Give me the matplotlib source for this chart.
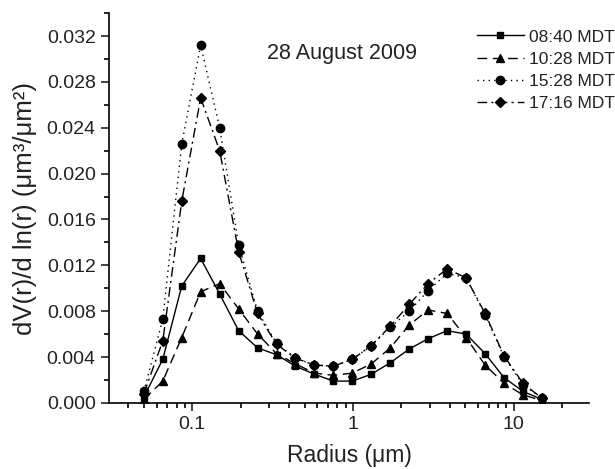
import matplotlib
matplotlib.use("Agg")
import matplotlib.pyplot as plt
from matplotlib.ticker import LogLocator, NullFormatter, MultipleLocator, FixedLocator

plt.rcParams['font.family'] = ['Liberation Sans', 'DejaVu Sans']

# AERONET size bins (um)
radius = [0.050, 0.0656, 0.0861, 0.1129, 0.1482, 0.1944, 0.2551, 0.3347, 0.4392,
          0.5762, 0.7561, 0.9920, 1.3016, 1.7078, 2.2407, 2.9400, 3.8575, 5.0613,
          6.6407, 8.7131, 11.4323, 15.0]

# dV(r)/d ln(r) for each retrieval time
s0840 = [0.0005, 0.0038, 0.0102, 0.0126, 0.0095, 0.0063, 0.0048, 0.0042, 0.0032,
         0.0025, 0.0019, 0.0019, 0.0025, 0.0035, 0.0047, 0.0056, 0.0063, 0.0060,
         0.0043, 0.0022, 0.0010, 0.0003]
s1028 = [0.0003, 0.0019, 0.0057, 0.0097, 0.0104, 0.0082, 0.0060, 0.0043, 0.0034,
         0.0026, 0.0024, 0.0026, 0.0034, 0.0048, 0.0068, 0.0081, 0.0078, 0.0057,
         0.0033, 0.0017, 0.0007, 0.0002]
s1528 = [0.0010, 0.0073, 0.0226, 0.0312, 0.0240, 0.0138, 0.0080, 0.0052, 0.0039,
         0.0033, 0.0032, 0.0038, 0.0050, 0.0066, 0.0080, 0.0098, 0.0113, 0.0109,
         0.0077, 0.0040, 0.0016, 0.0004]
s1716 = [0.0008, 0.0054, 0.0176, 0.0266, 0.0220, 0.0132, 0.0078, 0.0051, 0.0039,
         0.0033, 0.0032, 0.0038, 0.0050, 0.0067, 0.0086, 0.0104, 0.0117, 0.0109,
         0.0078, 0.0041, 0.0017, 0.0004]

labels = ["08:40 MDT", "10:28 MDT", "15:28 MDT", "17:16 MDT"]
yticks = [0.000, 0.004, 0.008, 0.012, 0.016, 0.020, 0.024, 0.028, 0.032]

fig = plt.figure(figsize=(6.15, 4.69), dpi=100)
ax = fig.add_axes([0.177, 0.141, 0.781, 0.831])

ax.plot(radius, s0840, color='black', lw=1, ls='-', marker='s', ms=5, label=labels[0])
ax.plot(radius, s1028, color='black', lw=1, ls=(0, (7, 4)), marker='^', ms=6, label=labels[1])
ax.plot(radius, s1528, color='black', lw=1, ls=(0, (1, 3)), marker='o', ms=6, label=labels[2])
ax.plot(radius, s1716, color='black', lw=1, ls=(0, (7, 3, 1.5, 3)), marker='D', ms=5.5, label=labels[3])

ax.set_xscale('log')
ax.set_xlim(0.0303, 29.5)
ax.set_ylim(0, 0.034)
ax.xaxis.set_major_locator(FixedLocator([0.1, 1, 10]))
ax.set_xticklabels(["0.1", "1", "10"])
ax.xaxis.set_minor_locator(LogLocator(base=10, subs=range(2, 10)))
ax.xaxis.set_minor_formatter(NullFormatter())
ax.set_yticks(yticks)
ax.set_yticklabels([f"{v:.3f}" for v in yticks])
ax.yaxis.set_minor_locator(MultipleLocator(0.002))

ax.spines['top'].set_visible(False)
ax.spines['right'].set_visible(False)
ax.spines['left'].set_linewidth(1.2)
ax.spines['bottom'].set_linewidth(1.2)
ax.tick_params(which='major', direction='out', length=6, width=1.2, labelsize=14, colors='#222222')
ax.tick_params(which='minor', direction='out', length=3.5, width=1.2)

ax.set_xlabel("Radius (μm)", fontsize=16.5, labelpad=8, color='#222222')
ax.set_ylabel("dV(r)/d ln(r) (μm³/μm²)", fontsize=18.5, labelpad=7, color='#222222')

ax.text(0.485, 0.897, "28 August 2009", transform=ax.transAxes, ha='center', va='center',
        fontsize=15.5, color='#222222')

leg = ax.legend(loc='upper right', bbox_to_anchor=(1.075, 0.985), frameon=False, fontsize=12.5,
                handlelength=2.7, handletextpad=0.3, labelspacing=0.4, borderaxespad=0.2)
for t in leg.get_texts():
    t.set_color('#222222')

fig.savefig("out.png", dpi=100)
